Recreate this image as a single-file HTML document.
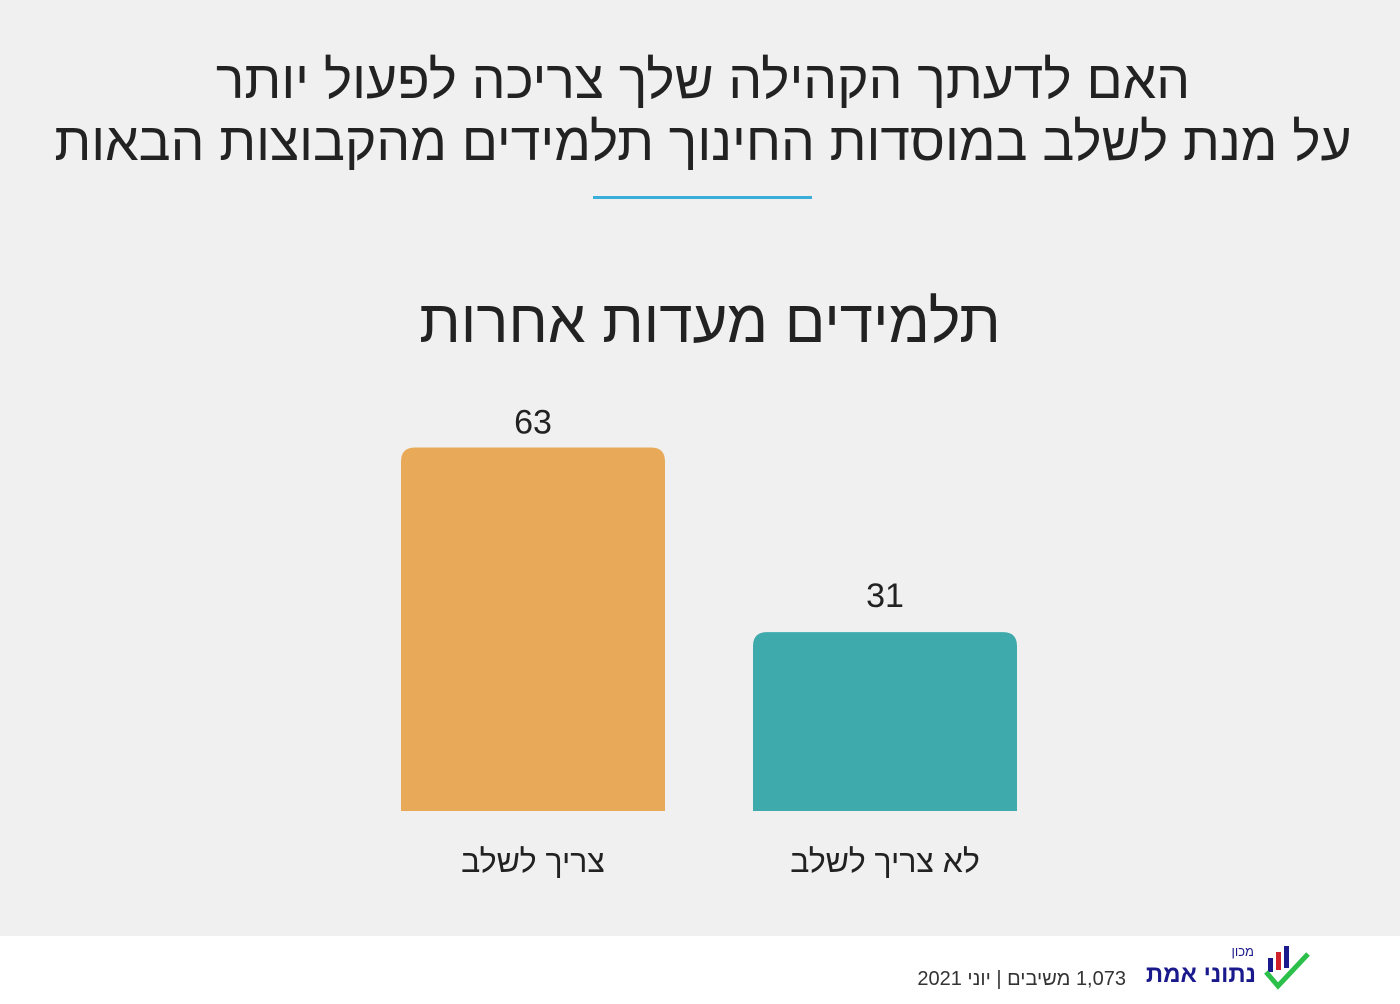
<!DOCTYPE html>
<html><head><meta charset="utf-8"><style>
body{margin:0;width:1400px;height:1004px;background:#fff;font-family:"Liberation Sans","Noto Sans CJK SC",sans-serif;overflow:hidden}
#bg{position:absolute;left:0;top:0;width:1400px;height:936px;background:#f0f0f0}
.t{position:absolute;left:0;width:1400px;text-align:center;color:#222;direction:rtl}
</style></head><body>
<div id="bg"></div>
<div class="t" style="top:50px;left:3px;font-size:53.4px;line-height:62px">האם לדעתך הקהילה שלך צריכה לפעול יותר<br>על מנת לשלב במוסדות החינוך תלמידים מהקבוצות הבאות</div>
<div style="position:absolute;left:593px;top:196px;width:219px;height:3px;background:#3aaed8"></div>
<div class="t" style="top:290px;left:10px;font-size:60px;line-height:64px">תלמידים מעדות אחרות</div>
<svg id="chart" width="1400" height="936" style="position:absolute;left:0;top:0"></svg>
<div style="position:absolute;left:880px;top:968px;width:246px;text-align:right;direction:rtl;font-size:20px;color:#333;white-space:nowrap">1,073 משיבים | יוני 2021</div>
<div style="position:absolute;left:1100px;top:944px;width:156px;text-align:right;direction:rtl;color:#1a1a8c;white-space:nowrap">
<div style="font-size:13px;line-height:16px;padding-right:2px">מכון</div><div style="font-size:24px;font-weight:bold;line-height:30px">נתוני אמת</div></div>
<svg style="position:absolute;left:1262px;top:942px" width="50" height="48">
<rect x="6" y="16" width="5" height="14" fill="#1a1a8c"/><rect x="14" y="10" width="5" height="18" fill="#d0202a"/><rect x="22" y="4" width="5" height="22" fill="#1a1a8c"/>
<path d="M4 30 L16 44 L46 12" stroke="#2cc04a" stroke-width="5" fill="none"/></svg>
<script>
const categories=["צריך לשלב","לא צריך לשלב"];
const values=[63,31];
const colors=["#e8aa58","#3eaaac"];
const svg=document.getElementById('chart');
const NS="http://www.w3.org/2000/svg";
const base=811, scale=5.77, x0=401, step=352, bw=264, r=14;
const y=v=>base-v*scale;
values.forEach((v,i)=>{
 const x=x0+i*step, top=y(v);
 const p=document.createElementNS(NS,'path');
 
 
 p.setAttribute('d',`M${x} ${base}V${top+r}Q${x} ${top} ${x+r} ${top}H${x+bw-r}Q${x+bw} ${top} ${x+bw} ${top+r}V${base}Z`);
 p.setAttribute('fill',colors[i]);svg.appendChild(p);
 const t=document.createElementNS(NS,'text');
 
 
 t.setAttribute('x',x+bw/2);t.setAttribute('y',top-(i===0?14:25));t.setAttribute('text-anchor','middle');
 t.setAttribute('font-size','34');t.setAttribute('fill','#222');t.textContent=v;svg.appendChild(t);
 const c=document.createElementNS(NS,'text');
 
 
 c.setAttribute('x',x+bw/2);c.setAttribute('y',872);c.setAttribute('text-anchor','middle');c.setAttribute('direction','rtl');
 c.setAttribute('font-size','32');c.setAttribute('fill','#222');c.textContent=categories[i];svg.appendChild(c);
});
</script>
</body></html>
